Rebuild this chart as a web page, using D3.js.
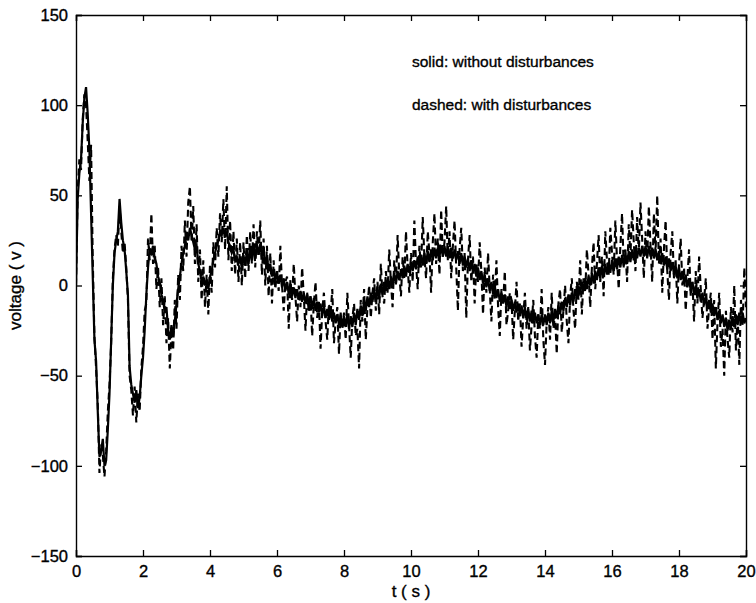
<!DOCTYPE html>
<html>
<head>
<meta charset="utf-8">
<script src="https://cdn.jsdelivr.net/npm/d3@7"></script>
<style>
  body { margin: 0; background: #fff; }
  svg text { font-family: "Liberation Sans", Arial, Helvetica, sans-serif; fill: #000; stroke: #000; stroke-width: 0.35px; }
</style>
</head>
<body>
<div id="chart"></div>
<script>
// sample spacing of both traces, seconds
const T_STEP = 0.05;

// solid trace: without disturbances (one row per second)
const solidVoltage = [
  0, 48, 62, 70, 90, 104, 110, 95, 75, 40, 5, -30, -42, -70, -95, -92, -85, -100, -97, -80,
  -60, -30, 0, 18, 25, 30, 48, 35, 25, 20, 8, -5, -45, -55, -60, -65, -58, -68, -62, -50,
  -40, -25, -5, 10, 20, 18, 22, 15, 12, 5, 2, -5, -8, -15, -12, -25, -30, -22, -28, -20,
  -10, -2, 5, 12, 18, 22, 28, 25, 32, 28, 24, 20, 22, 12, 8, 2, 5, 0, 3, -2,
  5, 8, 14, 18, 22, 25, 30, 28, 32, 27, 30, 24, 22, 18, 20, 14, 16, 12, 15, 10,
  17, 11, 19, 12, 20, 14, 22, 15, 23, 17, 23, 16, 19, 12, 16, 9, 12, 5, 9, 2,
  8, 1, 6, -1, 4, -3, 2, -5, 1, -6, -1, -7, -2, -8, -3, -9, -4, -10, -5, -11,
  -6, -13, -7, -14, -9, -15, -10, -17, -11, -18, -13, -19, -14, -20, -15, -21, -16, -22, -16, -23,
  -17, -23, -16, -24, -17, -23, -15, -22, -13, -19, -11, -17, -8, -14, -6, -12, -4, -9, -3, -8,
  -1, -7, 1, -5, 2, -3, 4, -2, 5, 0, 7, 1, 8, 3, 9, 4, 11, 5, 12, 7,
  13, 8, 14, 9, 16, 10, 17, 11, 18, 12, 19, 13, 20, 14, 21, 15, 21, 16, 22, 16,
  22, 16, 22, 15, 21, 15, 20, 14, 19, 12, 18, 11, 16, 10, 15, 8, 14, 7, 12, 5,
  10, 3, 8, 1, 6, -1, 4, -3, 2, -5, 0, -7, -2, -9, -4, -10, -5, -12, -6, -13,
  -8, -14, -9, -15, -10, -17, -11, -18, -12, -19, -13, -20, -14, -21, -15, -21, -16, -22, -16, -22,
  -16, -22, -15, -21, -14, -20, -13, -18, -11, -16, -9, -14, -7, -12, -5, -11, -4, -9, -2, -7,
  0, -5, 2, -3, 4, -2, 5, 0, 7, 1, 8, 3, 10, 4, 11, 5, 12, 6, 13, 7,
  14, 8, 15, 9, 16, 10, 17, 11, 18, 12, 19, 13, 20, 14, 21, 15, 21, 16, 22, 16,
  22, 16, 22, 16, 21, 15, 20, 14, 19, 12, 18, 11, 16, 9, 15, 8, 13, 6, 11, 4,
  10, 3, 8, 1, 6, -1, 4, -3, 2, -5, 0, -7, -2, -9, -4, -11, -6, -13, -8, -15,
  -10, -17, -12, -19, -14, -21, -16, -23, -18, -25, -19, -24, -17, -23, -16, -22, -15, -21, -15, -21,
  -18
];

// dashed trace: with disturbances
const dashedVoltage = [
  0, 52, 70, 64, 92, 106, 100, 80, 58, 78, 15, -28, -46, -66, -104, -88, -94, -106, -92, -70,
  -55, -32, 4, 20, 28, 22, 44, 30, 18, 24, 10, -8, -50, -58, -72, -56, -76, -60, -70, -46,
  -34, -14, -10, 26, 14, 40, 12, 22, -2, 10, -12, 4, -22, -6, -32, -18, -46, -24, -36, -8,
  -24, 6, -8, 22, 8, 36, 16, 46, 55, 24, 44, 12, 34, 2, 20, -8, 14, -12, 6, -16,
  12, -4, 24, 10, 32, 16, 40, 24, 48, 20, 55, 14, 36, 8, 30, 6, 26, 2, 24, 0,
  24, 4, 28, 8, 30, 12, 34, 10, 30, 16, 36, 6, 26, 0, 22, -6, 18, -10, 14, -2,
  8, -3, 22, 0, -14, 2, 5, -24, 3, -8, 12, -6, -20, 0, -12, 10, -6, -25, -4, -15,
  -6, -28, -10, 2, -18, -8, -35, -14, -4, -20, -30, -10, -16, -2, -32, -20, -12, -38, -15, -24,
  -15, -30, -4, -22, -40, -18, -10, -28, -24, -46, -8, -20, -2, -30, -12, 0, -18, -4, 4, -14,
  2, -16, 12, -6, -10, 8, -4, 20, 2, -12, 14, 0, 28, 6, -6, 16, 4, 30, 10, -4,
  18, 2, 36, 12, -2, 22, 10, 38, 16, 4, 30, 18, -4, 24, 40, 12, 26, 6, 42, 16,
  24, 44, 14, 30, 4, 22, 36, 10, -14, 20, 32, 8, 18, -18, 14, 28, 2, 16, -10, 12,
  2, 24, 8, -16, 10, -4, 18, -2, -20, 6, -8, 14, -12, -28, -2, -10, 8, -22, -14, -4,
  -8, -30, -14, 2, -20, -10, -34, -18, -4, -24, -12, -36, -22, -8, -28, -40, -16, -24, -2, -30,
  -44, -20, -12, -30, -4, -24, -16, -38, -10, -2, -26, -14, 0, -20, -32, -6, 4, -14, -24, 2,
  -8, 14, -16, 4, -4, 20, 6, -12, 10, 24, -2, 12, 28, 2, 16, -6, 30, 14, 6, 32,
  18, 6, 36, 14, -2, 22, 40, 10, 20, 2, 34, 16, 42, 24, 8, 38, 18, 46, 26, 4,
  30, 14, 44, 22, 2, 40, 18, 50, 12, 26, -4, 20, 36, 8, -8, 18, 30, 4, 14, -10,
  12, 26, 0, 10, -14, 4, 20, -6, 2, -20, 8, -10, 16, -2, -18, -8, 4, -24, -12, -4,
  -30, -8, -46, -20, -4, -34, -24, -50, -14, -30, -40, -12, -26, 0, -36, -16, -44, -8, -22, 10,
  -12
];

const xTicks = [0, 2, 4, 6, 8, 10, 12, 14, 16, 18, 20];
const yTicks = [-150, -100, -50, 0, 50, 100, 150];
const legendLines = ['solid: without disturbances', 'dashed: with disturbances'];

const width = 756, height = 603;
const margin = { top: 15, right: 10, bottom: 47, left: 76 };

const svg = d3.select('#chart').append('svg')
  .attr('width', width)
  .attr('height', height);

const x = d3.scaleLinear().domain([0, 20]).range([margin.left, width - margin.right]);
const y = d3.scaleLinear().domain([-150, 150]).range([height - margin.bottom, margin.top]);

const toPoints = arr => arr.map((v, i) => [i * T_STEP, v]);
const line = d3.line().x(d => x(d[0])).y(d => y(d[1]));

// clip traces to the box
svg.append('clipPath').attr('id', 'plot-clip')
  .append('rect')
  .attr('x', margin.left).attr('y', margin.top)
  .attr('width', width - margin.left - margin.right)
  .attr('height', height - margin.top - margin.bottom);

const traces = svg.append('g').attr('clip-path', 'url(#plot-clip)');

traces.append('path')
  .datum(toPoints(dashedVoltage))
  .attr('d', line)
  .attr('fill', 'none')
  .attr('stroke', '#000')
  .attr('stroke-width', 2.1)
  .attr('stroke-dasharray', '7,4');

traces.append('path')
  .datum(toPoints(solidVoltage))
  .attr('d', line)
  .attr('fill', 'none')
  .attr('stroke', '#000')
  .attr('stroke-width', 2.2);

// axes, ticks pointing inward on all four sides
const fmt = d => d < 0 ? '\u2212' + Math.abs(d) : String(d);
const tickLen = 6;

const axes = [
  { axis: d3.axisBottom(x).tickValues(xTicks).tickSize(-tickLen).tickPadding(9).tickFormat(fmt), pos: `translate(0,${y(-150)})` },
  { axis: d3.axisTop(x).tickValues(xTicks).tickSize(-tickLen).tickFormat(''), pos: `translate(0,${y(150)})` },
  { axis: d3.axisLeft(y).tickValues(yTicks).tickSize(-tickLen).tickPadding(8).tickFormat(fmt), pos: `translate(${x(0)},0)` },
  { axis: d3.axisRight(y).tickValues(yTicks).tickSize(-tickLen).tickFormat(''), pos: `translate(${x(20)},0)` }
];

axes.forEach(a => {
  const g = svg.append('g').attr('transform', a.pos).call(a.axis);
  g.select('.domain').attr('stroke', '#000').attr('stroke-width', 1.4);
  g.selectAll('.tick line').attr('stroke', '#000').attr('stroke-width', 1.3);
  g.selectAll('.tick text').attr('font-size', 16.5).attr('fill', '#000');
});

// axis titles
svg.append('text')
  .attr('x', x(10))
  .attr('y', 597)
  .attr('text-anchor', 'middle')
  .attr('font-size', 17)
  .text('t ( s )');

svg.append('text')
  .attr('transform', `translate(21,${y(0)}) rotate(-90)`)
  .attr('text-anchor', 'middle')
  .attr('font-size', 17)
  .text('voltage ( v )');

// annotation
svg.selectAll('.legend-line')
  .data(legendLines)
  .enter()
  .append('text')
  .attr('class', 'legend-line')
  .attr('x', 412)
  .attr('y', (d, i) => 67 + i * 43)
  .attr('font-size', 15.5)
  .text(d => d);
</script>
</body>
</html>
